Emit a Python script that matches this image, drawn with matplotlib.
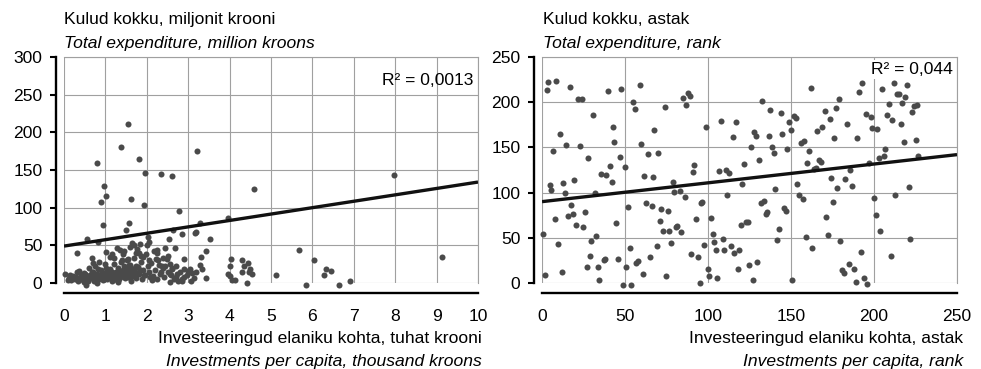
import matplotlib
matplotlib.use('Agg')
import matplotlib.pyplot as plt

plt.rcParams['font.family'] = ['Liberation Sans', 'DejaVu Sans']

# Left panel: investments per capita (thousand kroons) vs total expenditure (million kroons)
left_x = [
    0.02, 0.1, 0.15, 0.27, 0.32, 0.37, 0.43, 0.48, 0.53, 0.56,
    0.6, 0.67, 0.69, 0.72, 0.79, 0.8, 0.81, 0.89, 0.93, 0.96,
    1.01, 1.01, 1.11, 1.27, 1.3, 1.37, 1.43, 1.5, 1.54, 1.57,
    1.63, 1.65, 1.71, 1.77, 1.81, 1.83, 1.9, 1.93, 1.96, 2.0,
    2.04, 2.05, 2.06, 2.12, 2.22, 2.25, 2.34, 2.36, 2.45, 2.48,
    2.53, 2.57, 2.61, 2.64, 2.67, 2.7, 2.77, 2.86, 2.86, 2.89,
    2.98, 3.06, 3.17, 3.18, 3.2, 3.22, 3.29, 3.31, 3.33, 3.42,
    3.44, 3.53, 3.95, 3.96, 4.0, 4.03, 4.05, 4.14, 4.29, 4.31,
    4.35, 4.41, 4.45, 4.5, 4.54, 4.58, 5.11, 5.68, 5.84, 6.03,
    6.28, 6.32, 6.44, 6.65, 6.92, 7.96, 9.12,
    2.24, 2.4, 2.5, 2.3, 2.45, 2.6, 2.35, 2.55, 2.7, 2.85,
    2.9, 3.05, 3.28, 4.0, 4.48, 1.35, 1.45, 1.6, 1.7, 1.75,
    1.85, 1.55, 1.2, 1.4, 1.0, 0.75, 0.85, 1.15,
    0.13, 0.17, 0.22, 0.28, 0.32, 0.35, 0.38, 0.4, 0.45, 0.48,
    0.5, 0.52, 0.55, 0.58, 0.6, 0.62, 0.65, 0.67, 0.7, 0.72,
    0.75, 0.77, 0.8, 0.82, 0.84, 0.86, 0.88, 0.9, 0.93, 0.95,
    0.96, 0.98, 1.0, 1.02, 1.04, 1.05, 1.07, 1.08, 1.1, 1.12,
    1.14, 1.15, 1.17, 1.18, 1.2, 1.22, 1.24, 1.25, 1.27, 1.28,
    1.3, 1.32, 1.33, 1.35, 1.36, 1.38, 1.4, 1.41, 1.42, 1.44,
    1.45, 1.47, 1.48, 1.5, 1.51, 1.52, 1.54, 1.55, 1.57, 1.58,
    1.6, 1.62, 1.63, 1.65, 1.67, 1.68, 1.7, 1.72, 1.74, 1.75,
    1.78, 1.8, 1.82, 1.84, 1.85, 1.88, 1.9, 1.93, 1.95, 1.98,
    2.02, 2.05, 2.08, 2.1, 2.15, 2.18, 2.2, 2.25, 2.28, 2.32,
    2.38, 2.42, 2.5, 2.55, 2.58, 2.62, 2.65, 2.72, 2.75, 2.8,
    2.9, 3.0, 3.1, 3.15,
]
left_y = [
    12, 4, 10, 5, 40, 16, 9, 1, -3, 58,
    20, 33, 27, 9, 0, 159, 54, 108, 77, 129,
    115, 41, 35, 46, 1, 181, 38, 70, 211, 79,
    111, 53, 20, 45, 164, 52, 35, 104, 146, 50,
    61, 55, 31, 4, 32, 44, 145, 23, 47, 32,
    58, 1, 142, 70, 46, 22, 96, 65, 2, 32,
    11, 3, 66, 68, 14, 175, 80, 35, 19, 43,
    7, 58, 86, 12, 23, 32, 4, 4, 31, 14,
    23, 0, 27, 19, 12, 125, 10, 44, -3, 31,
    11, 19, 16, -3, 3, 143, 35,
    40, 33, 36, 24, 22, 20, 14, 12, 8, 5,
    18, 18, 24, 9, 15, 44, 42, 48, 50, 40,
    36, 32, 33, 30, 25, 22, 28, 38,
    6, 4, 9, 8, 14, 3, 6, 10, 4, 13,
    12, 6, 7, 3, 9, 11, 6, 14, 15, 3,
    9, 5, 12, 18, 5, 8, 10, 17, 4, 11,
    13, 7, 8, 20, 14, 5, 10, 14, 9, 18,
    6, 3, 15, 12, 25, 7, 11, 15, 4, 10,
    20, 13, 5, 13, 8, 28, 9, 16, 17, 11,
    22, 6, 14, 12, 19, 30, 8, 15, 24, 8,
    24, 3, 12, 18, 9, 11, 33, 14, 22, 7,
    21, 40, 12, 17, 28, 5, 17, 11, 10, 38,
    22, 14, 8, 26, 9, 42, 17, 5, 30, 12,
    20, 8, 15, 25, 10, 18, 5, 12, 3, 14,
    8, 16, 13, 7,
]

# Right panel: ranks
right_x = [
    0.6, 2, 3, 3.6, 4.6, 5.6, 6.8, 7.6, 8.6, 9.7,
    10.7, 11.9, 12.9, 13.7, 14.5, 15.7, 16.9, 17.7, 18.5, 19.3,
    20.7, 21.7, 22.7, 23.9, 24.5, 25.7, 27, 27.6, 28.8, 29.6,
    30.8, 32.2, 32.8, 33.8, 34.6, 35.8, 37.2, 38, 38.8, 39.6,
    40.8, 42, 42.6, 43.6, 44.4, 45.9, 46.9, 47.7, 48.9, 49.9,
    50.9, 51.9, 52.9, 53.9, 54.9, 55.9, 56.9, 57.7, 58.9, 59.9,
    61.1, 61.5, 62.8, 63.8, 64.8, 66, 66.8, 67.5, 69, 69.8,
    71, 71.8, 72.6, 74, 74.8, 76, 76.8, 77.8, 78.8, 79.6,
    80.7, 81.3, 82.9, 83.9, 84.7, 85.9, 86.7, 87.7, 88.9, 89.7,
    90.7, 91.5, 92.7, 93.7, 94.9, 95.5, 96.5, 97.7, 98.7, 100,
    100.6, 101.6, 102.8, 103.8, 104.8, 105.6, 106.8, 107.8, 108.8, 109.8,
    110.6, 111.6, 112.8, 113.8, 114.8, 115.8, 116.9, 117.9, 118.9, 119.9,
    120.5, 121.9, 122.9, 124, 124.9, 125.9, 126.9, 127.9, 129, 129.7,
    130.5, 131.7, 132.7, 133.8, 134.8, 135.4, 136.8, 137.6, 138.6, 139.8,
    140.6, 141.8, 142.6, 143.8, 144.8, 145.8, 146.8, 147.6, 148.8, 150,
    150.6, 151.8, 152.8, 153.8, 155, 156, 157, 157.9, 158.9, 159.9,
    160.9, 161.9, 162.9, 163.7, 164.9, 165.9, 167.1, 167.9, 168.9, 170.2,
    171, 172.2, 173.2, 173.8, 175, 176, 177, 177.8, 179, 179.8,
    181, 181.8, 182.8, 184, 184.8, 185.8, 186.8, 187.8, 188.9, 189.9,
    190.9, 191.9, 192.9, 193.9, 194.9, 195.9, 196.9, 197.9, 198.9, 199.9,
    201.1, 201.9, 202.9, 203.9, 204.9, 205.9, 206.9, 208, 208.8, 210,
    211, 211.8, 212.8, 213.8, 214.8, 216, 216.8, 218, 218.8, 219.8,
    221.2, 221.8, 222.8, 223.8, 225, 226.1, 226.7,
]
right_y = [
    54, 9, 213, 222, 108, 103, 146, 71, 223, 43,
    165, 12, 111, 100, 153, 74, 217, 86, 76, 114,
    64, 203, 151, 204, 62, 79, 18, 138, 30, 46,
    186, 100, 52, 18, 3, 121, 25, 27, 120, 212,
    129, 112, 173, 156, 66, 27, 139, 215, -2, 128,
    18, 84, 39, -2, 200, 193, 22, 24, 219, 154,
    10, 118, 88, 143, 29, 85, 117, 169, 41, 144,
    69, 82, 57, 195, 8, 80, 58, 44, 112, 101,
    62, 63, 102, 56, 205, 95, 197, 210, 207, 32,
    123, 131, 71, 29, 0, 89, 90, 42, 173, 15,
    8, 72, 54, 45, 36, 6, 124, 179, 49, 37,
    125, 97, 122, 41, 162, 33, 178, 15, 36, 64,
    110, 132, 67, 68, 20, 150, 3, 167, 163, 23,
    136, 88, 201, 91, 76, 79, 163, 191, 150, 144,
    104, 48, 60, 188, 165, 83, 80, 148, 178, 169,
    3, 185, 183, 110, 97, 155, 93, 157, 51, 133,
    146, 216, 39, 126, 127, 168, 136, 134, 173, 190,
    73, 53, 181, 116, 90, 160, 194, 105, 203, 46,
    14, 11, 115, 176, 21, 125, 107, 15, 1, 160,
    211, 34, 221, 6, 187, -1, 133, 184, 171, 94,
    75, 170, 138, 58, 215, 141, 148, 186, 198, 30,
    180, 221, 97, 209, 209, 176, 199, 156, 206, 219,
    106, 49, 189, 196, 158, 197, 141,
]

# trend lines (end points)
left_trend_x = [0, 10]
left_trend_y = [49, 134]
right_trend_x = [0, 250]
right_trend_y = [90, 142]

left_xticks = list(range(0, 11))
left_yticks = [0, 50, 100, 150, 200, 250, 300]
right_xticks = [0, 50, 100, 150, 200, 250]
right_yticks = [0, 50, 100, 150, 200, 250]

left_title = ['Kulud kokku, miljonit krooni', 'Total expenditure, million kroons']
left_xlabel = ['Investeeringud elaniku kohta, tuhat krooni', 'Investments per capita, thousand kroons']
right_title = ['Kulud kokku, astak', 'Total expenditure, rank']
right_xlabel = ['Investeeringud elaniku kohta, astak', 'Investments per capita, rank']
left_r2 = 'R² = 0,0013'
right_r2 = 'R² = 0,044'

W, H = 981, 369
FS = 12.6
DOT = '#4a4a4a'
GRID = '#a0a0a0'


def fx(px):
    return px / W


def fy(py):
    return 1 - py / H


def style_axes(ax, xticks, yticks):
    ax.set_xlim(xticks[0], xticks[-1])
    ax.set_ylim(yticks[0], yticks[-1])
    ax.set_xticks(xticks)
    ax.set_yticks(yticks)
    ax.grid(True, color=GRID, lw=0.8)
    ax.set_axisbelow(True)
    for s in ['top', 'right']:
        ax.spines[s].set_color(GRID)
        ax.spines[s].set_linewidth(0.8)
    ax.spines['left'].set_position(('outward', 5.5))
    ax.spines['bottom'].set_position(('outward', 7))
    for s in ['left', 'bottom']:
        ax.spines[s].set_color('black')
        ax.spines[s].set_linewidth(1.7)
    ax.tick_params(axis='y', direction='out', length=4.5, width=1.5, pad=5.5, labelsize=FS)
    ax.tick_params(axis='x', length=0, pad=12, labelsize=FS)
    ax.set_xticks([xticks[0], xticks[-1]], minor=True)
    ax.tick_params(axis='x', which='minor', direction='out', length=4.5, width=1.5)


fig = plt.figure(figsize=(W / 100, H / 100), dpi=100)
ax1 = fig.add_axes([fx(64), fy(283), fx(414), 226 / H])
ax2 = fig.add_axes([fx(542), fy(283), fx(415), 226 / H])

for ax, xs, ys, tx, ty, xt, yt in [
    (ax1, left_x, left_y, left_trend_x, left_trend_y, left_xticks, left_yticks),
    (ax2, right_x, right_y, right_trend_x, right_trend_y, right_xticks, right_yticks),
]:
    style_axes(ax, xt, yt)
    ax.scatter(xs, ys, s=19, color=DOT, linewidths=0, clip_on=False, zorder=2)
    ax.plot(tx, ty, color='#111111', lw=2.4, solid_capstyle='butt', zorder=3)

# titles and axis labels
fig.text(fx(64), fy(24), left_title[0], fontsize=FS, va='baseline')
fig.text(fx(64), fy(48), left_title[1], fontsize=FS, va='baseline', style='italic')
fig.text(fx(543), fy(24), right_title[0], fontsize=FS, va='baseline')
fig.text(fx(543), fy(48), right_title[1], fontsize=FS, va='baseline', style='italic')

fig.text(fx(482), fy(343), left_xlabel[0], fontsize=FS, va='baseline', ha='right')
fig.text(fx(482), fy(366), left_xlabel[1], fontsize=FS, va='baseline', ha='right', style='italic')
fig.text(fx(963), fy(343), right_xlabel[0], fontsize=FS, va='baseline', ha='right')
fig.text(fx(963), fy(366), right_xlabel[1], fontsize=FS, va='baseline', ha='right', style='italic')

fig.text(fx(473), fy(85), left_r2, fontsize=FS, va='baseline', ha='right')
fig.text(fx(953), fy(74), right_r2, fontsize=FS, va='baseline', ha='right',
         bbox=dict(facecolor='white', edgecolor='none', pad=1.5))

fig.savefig('out.png', dpi=100)
